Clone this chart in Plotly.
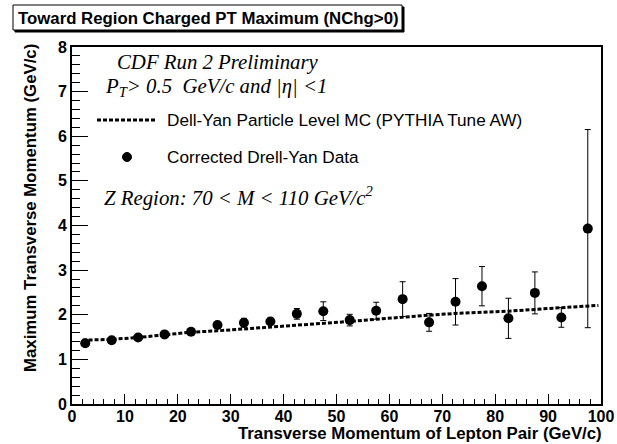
import plotly.graph_objects as go

# ---- data ----
pt_bins = [2.5, 7.5, 12.5, 17.5, 22.5, 27.5, 32.5, 37.5, 42.5, 47.5,
           52.5, 57.5, 62.5, 67.5, 72.5, 77.5, 82.5, 87.5, 92.5, 97.5]
data_vals = [1.36, 1.43, 1.49, 1.56, 1.62, 1.77, 1.82, 1.85, 2.02, 2.08,
             1.88, 2.09, 2.35, 1.83, 2.29, 2.64, 1.92, 2.49, 1.94, 3.93]
data_err = [0.03, 0.03, 0.03, 0.04, 0.04, 0.05, 0.10, 0.07, 0.12, 0.21,
            0.13, 0.19, 0.39, 0.20, 0.52, 0.44, 0.45, 0.47, 0.22, 2.22]

mc_x = [2.0, 7.5, 12.5, 17.5, 22.5, 27.5, 32.5, 37.5, 42.5, 47.5,
        52.5, 57.5, 62.5, 67.5, 72.5, 77.5, 82.5, 87.5, 92.5, 97.5, 99.5]
mc_vals = [1.43, 1.45, 1.49, 1.55, 1.61, 1.64, 1.68, 1.73, 1.77, 1.81,
           1.85, 1.90, 1.95, 1.99, 2.03, 2.05, 2.08, 2.12, 2.16, 2.19, 2.21]

x_ticks = [0, 10, 20, 30, 40, 50, 60, 70, 80, 90, 100]
y_ticks = [0, 1, 2, 3, 4, 5, 6, 7, 8]

# pixel -> paper helpers for the decorations (plot area: x 72..601, y 47..404)
def px(x):
    return (x - 72) / 529

def py(y):
    return (404 - y) / 357

fig = go.Figure()

fig.add_trace(go.Scatter(
    x=mc_x, y=mc_vals, mode="lines",
    line=dict(color="black", width=3, dash="4px,2px"),
    showlegend=False, hoverinfo="skip"))

fig.add_trace(go.Scatter(
    x=pt_bins, y=data_vals, mode="markers",
    marker=dict(color="black", size=10, symbol="circle"),
    error_y=dict(type="data", array=data_err, color="black", thickness=1, width=3),
    showlegend=False))

tick_font = dict(family="Liberation Sans, Arial", size=16, color="black", weight="bold")

fig.update_layout(
    width=617, height=444,
    margin=dict(l=72, r=16, t=47, b=40, autoexpand=False),
    paper_bgcolor="white", plot_bgcolor="white",
    font=dict(family="Liberation Sans, Arial", color="black"),
    xaxis=dict(range=[0, 100], tickvals=x_ticks, ticktext=[str(v) for v in x_ticks],
               ticks="inside", ticklen=10, tickwidth=1, tickcolor="black",
               minor=dict(ticks="inside", dtick=2, ticklen=5, tickwidth=1, tickcolor="black"),
               showline=True, linewidth=2, linecolor="black", mirror=True,
               showgrid=False, zeroline=False, automargin=False,
               ticklabelstandoff=-3,
               tickfont=tick_font),
    yaxis=dict(range=[0, 8], tickvals=y_ticks, ticktext=[str(v) for v in y_ticks],
               ticks="inside", ticklen=16, tickwidth=1, tickcolor="black",
               minor=dict(ticks="inside", dtick=0.2, ticklen=8, tickwidth=1, tickcolor="black"),
               showline=True, linewidth=2, linecolor="black", mirror=True,
               showgrid=False, zeroline=False, automargin=False,
               tickfont=tick_font),
)

ann = []
# title (box drawn with shapes below)
ann.append(dict(xref="paper", yref="paper", x=px(208), y=py(18),
                xanchor="center", yanchor="middle", showarrow=False,
                text="<b>Toward Region Charged PT Maximum (NChg&gt;0)</b>",
                font=dict(family="Liberation Sans, Arial", size=16.8, color="black")))
# axis titles
axis_title_font = dict(family="Liberation Sans, Arial", size=16.8, color="black")
ann.append(dict(xref="paper", yref="paper", x=1.005, y=py(433),
                xanchor="right", yanchor="middle", showarrow=False,
                text="<b>Transverse Momentum of Lepton Pair (GeV/c)</b>", font=axis_title_font))
ann.append(dict(xref="paper", yref="paper", x=px(30), y=py(42),
                xanchor="center", yanchor="top", textangle=-90, showarrow=False,
                text="<b>Maximum Transverse Momentum (GeV/c)</b>", font=axis_title_font))
# italic serif texts
serif = dict(family="Liberation Serif, Times New Roman", size=20.8, color="black")
ann.append(dict(xref="paper", yref="paper", x=px(115), y=py(62),
                xanchor="left", yanchor="middle", showarrow=False,
                text="<i>CDF Run 2 Preliminary</i>", font=serif))
ann.append(dict(xref="paper", yref="paper", x=px(103), y=py(87),
                xanchor="left", yanchor="middle", showarrow=False,
                text="<i>P<sub>T</sub>&gt; 0.5  GeV/c and |η| &lt;1</i>", font=serif))
ann.append(dict(xref="paper", yref="paper", x=px(102), y=py(197),
                xanchor="left", yanchor="middle", showarrow=False,
                text="<i>Z Region: 70 &lt; M &lt; 110 GeV/c<sup>2</sup></i>", font=serif))
# legend texts
leg_font = dict(family="Liberation Sans, Arial", size=17.2, color="black")
ann.append(dict(xref="paper", yref="paper", x=px(165), y=py(120),
                xanchor="left", yanchor="middle", showarrow=False,
                text="Dell-Yan Particle Level MC (PYTHIA Tune AW)", font=leg_font))
ann.append(dict(xref="paper", yref="paper", x=px(165), y=py(157),
                xanchor="left", yanchor="middle", showarrow=False,
                text="Corrected Drell-Yan Data", font=leg_font))
fig.update_layout(annotations=ann)

shapes = [
    # title box shadow and box
    dict(type="rect", xref="paper", yref="paper", layer="below",
         x0=px(15), x1=px(404), y0=py(32), y1=py(7),
         fillcolor="black", line=dict(color="black", width=1)),
    dict(type="rect", xref="paper", yref="paper", layer="below",
         x0=px(13), x1=px(402), y0=py(30), y1=py(5),
         fillcolor="white", line=dict(color="black", width=1)),
    # legend symbols
    dict(type="line", xref="paper", yref="paper",
         x0=px(97), x1=px(157), y0=py(120), y1=py(120),
         line=dict(color="black", width=3, dash="4px,2px")),
    dict(type="circle", xref="paper", yref="paper",
         x0=px(122.5), x1=px(131.5), y0=py(161.5), y1=py(152.5),
         fillcolor="black", line=dict(color="black", width=1)),
]
fig.update_layout(shapes=shapes)

fig.write_html("out.html", config={"displayModeBar": False},
               post_script="document.body.style.margin='0';")
